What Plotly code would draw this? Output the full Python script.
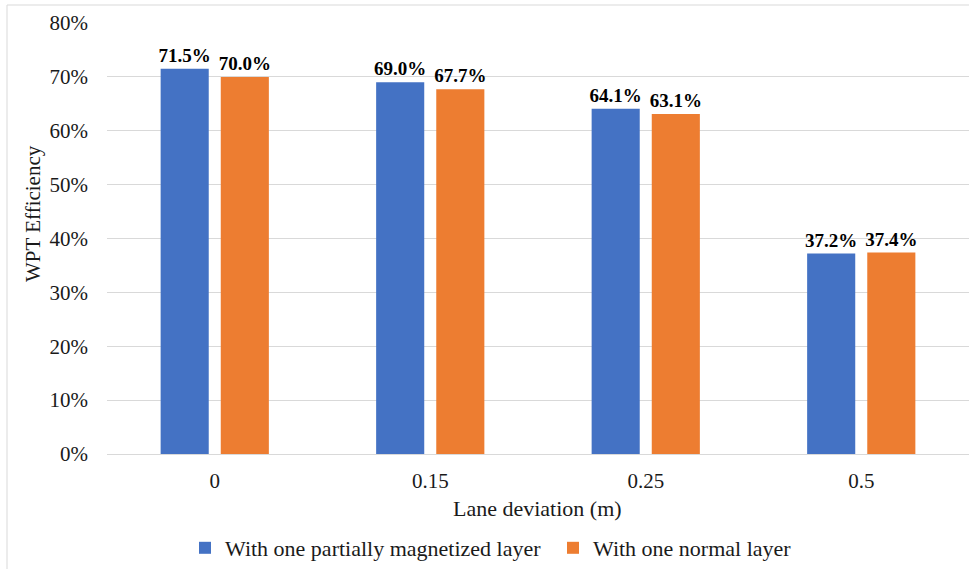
import plotly.graph_objects as go

# Lane deviation categories and WPT efficiency for the two layer designs
deviations = ["0", "0.15", "0.25", "0.5"]
partially_magnetized = [0.715, 0.690, 0.641, 0.372]
normal_layer = [0.700, 0.677, 0.631, 0.374]
series_names = ["With one partially magnetized layer", "With one normal layer"]
y_ticks = [0, 0.1, 0.2, 0.3, 0.4, 0.5, 0.6, 0.7, 0.8]

BLUE = "#4472C4"
ORANGE = "#ED7D31"
FONT = "Liberation Serif, Times New Roman, serif"
TEXT = "#1a1a1a"

W, H = 969, 569
L, R, T, B = 107, 0, 23, 115
pw, ph = W - L - R, H - T - B


def px_x(p):
    return (p - L) / pw


def px_y(p):
    return (H - B - p) / ph


fig = go.Figure()
for name, vals, color in [(series_names[0], partially_magnetized, BLUE),
                          (series_names[1], normal_layer, ORANGE)]:
    fig.add_trace(go.Bar(
        x=deviations, y=vals, name=name,
        marker=dict(color=color, line=dict(width=0)),
        texttemplate="<b>%{y:.1%}</b>", textposition="outside",
        constraintext="none",
        textfont=dict(family=FONT, size=19, color="#000000"),
        cliponaxis=False,
    ))

fig.update_layout(
    width=W, height=H,
    margin=dict(l=L, r=R, t=T, b=B, autoexpand=False),
    paper_bgcolor="white", plot_bgcolor="white",
    barmode="group", bargap=0.442, bargroupgap=0.2,
    font=dict(family=FONT, size=21, color=TEXT),
    showlegend=True,
    legend=dict(
        orientation="h", x=px_x(185), xanchor="left",
        y=px_y(548), yanchor="middle",
        font=dict(family=FONT, size=22, color=TEXT),
        bgcolor="rgba(0,0,0,0)",
        itemwidth=30, tracegroupgap=0, traceorder="normal",
        entrywidth=323, entrywidthmode="pixels",
    ),
)

fig.update_xaxes(
    type="category", showgrid=False, zeroline=False, showline=False,
    ticks="", ticklabelstandoff=12,
    tickfont=dict(family=FONT, size=21, color=TEXT),
)
fig.update_yaxes(
    range=[0, 0.8], tickvals=y_ticks, tickformat=".0%",
    showgrid=True, gridcolor="#D9D9D9", gridwidth=1,
    zeroline=True, zerolinecolor="#D9D9D9", zerolinewidth=1,
    showline=False, ticks="", ticklabelstandoff=18,
    tickfont=dict(family=FONT, size=21, color=TEXT),
)

# Axis titles
fig.add_annotation(
    text="Lane deviation (m)", xref="paper", yref="paper",
    x=px_x(537), y=px_y(508), xanchor="center", yanchor="middle",
    showarrow=False, font=dict(family=FONT, size=22, color=TEXT),
)
fig.add_annotation(
    text="WPT Efficiency", xref="paper", yref="paper",
    x=px_x(33), y=px_y(214), xanchor="center", yanchor="middle",
    textangle=-90, showarrow=False,
    font=dict(family=FONT, size=21, color=TEXT),
)

# Chart-area frame
fig.add_shape(
    type="rect", xref="paper", yref="paper",
    x0=px_x(7), x1=px_x(W + 5), y0=px_y(H + 5), y1=px_y(5),
    line=dict(color="#D9D9D9", width=1), fillcolor="rgba(0,0,0,0)",
    layer="below",
)

fig.write_html("out.html")
